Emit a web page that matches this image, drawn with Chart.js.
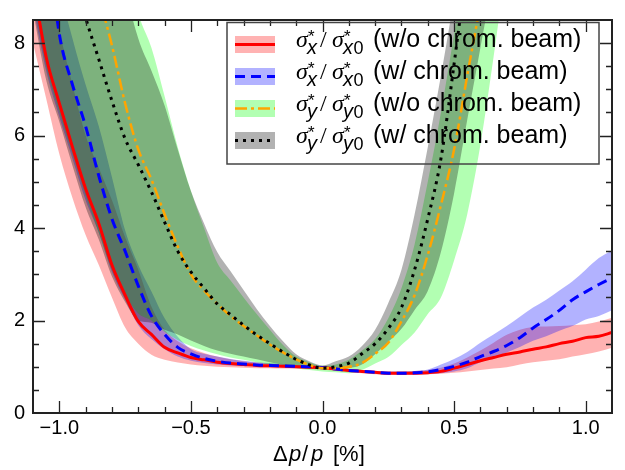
<!DOCTYPE html>
<html>
<head>
<meta charset="utf-8">
<script src="https://cdn.jsdelivr.net/npm/chart.js@4.4.0/dist/chart.umd.min.js"></script>
<style>
  html, body { margin: 0; padding: 0; background: #fff; }
  #wrap { width: 625px; height: 470px; position: relative; }
</style>
</head>
<body>
<div id="wrap"><canvas id="myChart"></canvas></div>
<script>
// momentum offset dp/p [%]
const dp = [-1.10, -1.05, -1.00, -0.95, -0.90, -0.85, -0.80, -0.75, -0.70, -0.65, -0.60, -0.55, -0.50, -0.45, -0.40,
    -0.35, -0.30, -0.25, -0.20, -0.15, -0.10, -0.05, 0.00, 0.05, 0.10, 0.15, 0.20, 0.25, 0.30, 0.35, 0.40,
    0.45, 0.50, 0.55, 0.60, 0.65, 0.70, 0.75, 0.80, 0.85, 0.90, 0.95, 1.00, 1.05, 1.10];

// sigma_x* / sigma_x0* (w/o chrom. beam)
const sxRef = [9.3, 7.7, 6.7, 5.75, 4.85, 4.1, 3.2, 2.55, 1.98, 1.7, 1.42, 1.3, 1.2, 1.15, 1.1,
    1.07, 1.05, 1.03, 1.02, 1.01, 1.0, 0.99, 0.98, 0.95, 0.92, 0.9, 0.88, 0.86, 0.86, 0.86, 0.87,
    0.9, 0.97, 1.05, 1.13, 1.2, 1.27, 1.32, 1.38, 1.43, 1.5, 1.55, 1.63, 1.66, 1.74];
const sxRefLo = [8.0, 6.8, 5.6, 4.65, 3.85, 3.2, 2.5, 1.85, 1.5, 1.26, 1.15, 1.09, 1.05, 1.02, 1.0,
    0.99, 0.98, 0.97, 0.97, 0.96, 0.96, 0.95, 0.94, 0.91, 0.88, 0.86, 0.84, 0.83, 0.83, 0.83, 0.84,
    0.85, 0.87, 0.9, 0.93, 0.96, 0.99, 1.05, 1.1, 1.13, 1.16, 1.22, 1.27, 1.33, 1.41];
const sxRefHi = [12, 10, 8.3, 7.1, 6.0, 5.3, 4.6, 3.8, 3.1, 2.3, 1.8, 1.55, 1.4, 1.3, 1.22,
    1.16, 1.12, 1.09, 1.07, 1.05, 1.03, 1.02, 1.01, 0.98, 0.95, 0.93, 0.91, 0.9, 0.9, 0.91, 0.93,
    0.98, 1.07, 1.2, 1.35, 1.52, 1.69, 1.8, 1.86, 1.87, 1.88, 1.9, 1.92, 1.98, 2.06];

// sigma_x* / sigma_x0* (w/ chrom. beam)
const sxChr = [13, 10.5, 8.2, 7.1, 6.2, 5.13, 4.2, 3.5, 2.75, 2.1, 1.7, 1.42, 1.28, 1.18, 1.12,
    1.08, 1.06, 1.04, 1.03, 1.02, 1.01, 1.0, 0.98, 0.95, 0.92, 0.9, 0.88, 0.86, 0.86, 0.87, 0.89,
    0.94, 1.01, 1.1, 1.22, 1.33, 1.46, 1.63, 1.84, 2.02, 2.22, 2.45, 2.62, 2.78, 2.92];
const sxChrLo = [8.8, 7.4, 6.4, 5.5, 4.6, 3.9, 3.05, 2.45, 1.9, 1.6, 1.38, 1.22, 1.13, 1.08, 1.05,
    1.03, 1.02, 1.01, 1.0, 0.99, 0.98, 0.97, 0.96, 0.93, 0.9, 0.87, 0.85, 0.84, 0.83, 0.83, 0.84,
    0.86, 0.9, 0.97, 1.1, 1.2, 1.31, 1.43, 1.56, 1.66, 1.78, 1.88, 2.02, 2.1, 2.22];
const sxChrHi = [14, 11.5, 9.3, 8.1, 7.1, 6.2, 5.1, 3.95, 3.2, 2.63, 2.05, 1.65, 1.38, 1.28, 1.22,
    1.17, 1.13, 1.1, 1.08, 1.06, 1.04, 1.03, 1.01, 0.98, 0.95, 0.93, 0.91, 0.9, 0.9, 0.91, 0.94,
    1.05, 1.17, 1.32, 1.52, 1.7, 1.88, 2.08, 2.28, 2.45, 2.65, 2.85, 3.1, 3.35, 3.52];

// sigma_y* / sigma_y0* (w/o chrom. beam)
const syRef = [20, 16, 13.5, 11.5, 10, 9.0, 7.95, 6.7, 5.7, 5.05, 4.3, 3.6, 3.0, 2.65, 2.36,
    2.1, 1.88, 1.68, 1.48, 1.31, 1.16, 1.04, 0.97, 0.97, 1.0, 1.08, 1.28, 1.52, 1.98, 2.55, 3.42,
    4.5, 5.7, 7.3, 8.9, 11, 13, 15.5, 18, 21, 24, 27, 30, 33, 36];
const syRefLo = [9.0, 7.5, 6.5, 5.6, 4.7, 3.9, 3.1, 2.55, 2.15, 2.0, 1.75, 1.58, 1.45, 1.35, 1.27,
    1.2, 1.15, 1.1, 1.05, 1.01, 0.97, 0.93, 0.9, 0.88, 0.86, 0.93, 1.07, 1.21, 1.47, 1.74, 2.14,
    2.5, 3.3, 4.3, 5.8, 7.7, 9.8, 12, 14, 16, 18, 20, 22, 24, 26];
const syRefHi = [30, 25, 21, 18, 15.5, 13.5, 11.5, 10, 8.65, 7.9, 6.85, 5.75, 4.8, 4.0, 3.25,
    2.87, 2.5, 2.14, 1.8, 1.47, 1.22, 1.1, 1.02, 1.05, 1.15, 1.35, 1.6, 2.05, 2.7, 3.65, 5.0,
    6.5, 8.2, 10, 12, 14, 16, 18, 20, 22, 24, 26, 28, 30, 32];

// sigma_y* / sigma_y0* (w/ chrom. beam)
const syChr = [16, 13.5, 11.3, 9.6, 8.55, 7.65, 6.75, 5.93, 5.37, 4.78, 4.13, 3.5, 3.05, 2.7, 2.36,
    2.13, 1.9, 1.69, 1.5, 1.32, 1.16, 1.04, 0.97, 1.0, 1.08, 1.28, 1.5, 1.83, 2.28, 3.1, 4.2,
    5.5, 7.55, 9.8, 12.5, 15, 18, 21, 24, 27, 30, 33, 36, 39, 42];
const syChrLo = [8.7, 7.2, 6.3, 5.35, 4.45, 3.75, 2.95, 2.4, 2.0, 1.95, 1.8, 1.7, 1.57, 1.45, 1.35,
    1.28, 1.22, 1.16, 1.1, 1.05, 1.0, 0.97, 0.95, 0.94, 0.97, 1.05, 1.27, 1.54, 1.82, 2.23, 2.64,
    3.48, 4.75, 6.34, 7.9, 9.5, 11.5, 13.5, 15.5, 17.5, 19.5, 21.5, 23.5, 25.5, 27.5];
const syChrHi = [28, 24, 20, 17, 14.5, 12.5, 10.7, 9.2, 8.1, 7.4, 6.65, 5.7, 4.8, 4.1, 3.48,
    3.07, 2.66, 2.25, 1.88, 1.55, 1.27, 1.12, 1.03, 1.12, 1.22, 1.45, 1.8, 2.38, 3.1, 4.3, 5.75,
    7.3, 9.0, 11, 13, 15, 17, 19, 21, 23, 25, 27, 29, 31, 33];

const xTicks = [-1.0, -0.5, 0.0, 0.5, 1.0];
const xTickLabels = ["\u22121.0", "\u22120.5", "0.0", "0.5", "1.0"];
const yTicks = [0, 2, 4, 6, 8];
const yTickLabels = ["0", "2", "4", "6", "8"];

const legendSub = ["x", "x", "y", "y"];
const legendText = ["(w/o chrom. beam)", "(w/ chrom. beam)", "(w/o chrom. beam)", "(w/ chrom. beam)"];

const pts = (arr) => arr.map((v, i) => ({ x: dp[i], y: v }));

const SANS = '"Liberation Sans", Arial, sans-serif';
const SERIF = '"Liberation Serif", "Times New Roman", serif';

const bandColors = ["rgba(255,0,0,0.3)", "rgba(0,0,255,0.3)", "rgba(0,255,0,0.3)", "rgba(0,0,0,0.3)"];
const lineStyles = [
    { color: "#ff0000", dash: [], width: 3 },
    { color: "#0000ff", dash: [10, 6], width: 3 },
    { color: "#ffa500", dash: [12, 4, 3, 4], width: 2.5 },
    { color: "#000000", dash: [3, 5], width: 3 },
];

function bound(data) {
    return {
        data: pts(data), borderColor: "transparent", borderWidth: 0, pointRadius: 0,
        fill: false, order: 20, cubicInterpolationMode: "monotone",
    };
}
function band(data, lowIndex, color, order) {
    return {
        data: pts(data), borderColor: "transparent", borderWidth: 0, pointRadius: 0,
        fill: lowIndex, backgroundColor: color, order: order, cubicInterpolationMode: "monotone",
    };
}
function curve(data, style, order) {
    return {
        data: pts(data), borderColor: style.color, borderWidth: style.width, borderDash: style.dash,
        pointRadius: 0, fill: false, order: order, cubicInterpolationMode: "monotone",
    };
}

// ticks on all four sides, pointing inwards, plus the frame
const frameTicks = {
    id: "frameTicks",
    afterDatasetsDraw(chart) {
        const { ctx, chartArea: a, scales: { x, y } } = chart;
        ctx.save();
        ctx.strokeStyle = "#222";
        ctx.lineWidth = 1.3;
        ctx.beginPath();
        for (let i = -10; i <= 10; i++) {
            const px = Math.round(x.getPixelForValue(i / 10)) + 0.5;
            const len = i % 5 === 0 ? 12 : 6;
            ctx.moveTo(px, a.bottom); ctx.lineTo(px, a.bottom - len);
            ctx.moveTo(px, a.top); ctx.lineTo(px, a.top + len);
        }
        for (let i = 1; i <= 16; i++) {
            const py = Math.round(y.getPixelForValue(i * 0.5)) + 0.5;
            const len = i % 4 === 0 ? 12 : 6;
            ctx.moveTo(a.left, py); ctx.lineTo(a.left + len, py);
            ctx.moveTo(a.right, py); ctx.lineTo(a.right - len, py);
        }
        ctx.stroke();
        ctx.lineWidth = 2;
        ctx.strokeRect(a.left, a.top, a.right - a.left, a.bottom - a.top);
        ctx.restore();
    },
};

// sigma*_s / sigma*_s0 written with super- and subscripts
function drawRatio(ctx, base, sub) {
    ctx.font = "italic 24px " + SERIF;
    ctx.fillText("\u03c3", 296, base);
    ctx.fillText("\u03c3", 332, base);
    ctx.font = "17px " + SANS;
    ctx.fillText("*", 308, base - 5);
    ctx.fillText("*", 344, base - 5);
    ctx.font = "italic 20px " + SANS;
    ctx.fillText(sub, 307, base + 7);
    ctx.fillText(sub, 343, base + 7);
    const w = ctx.measureText(sub).width;
    ctx.font = "18px " + SANS;
    ctx.fillText("0", 343 + w + 0.5, base + 7);
    ctx.font = "24px " + SERIF;
    ctx.fillText("/", 320, base);
}

const legendBox = {
    id: "legendBox",
    afterDraw(chart) {
        const ctx = chart.ctx;
        ctx.save();
        ctx.strokeStyle = "#444";
        ctx.lineWidth = 1.5;
        ctx.strokeRect(227, 22.5, 372, 141.5);
        ctx.textAlign = "left";
        ctx.textBaseline = "alphabetic";
        for (let i = 0; i < 4; i++) {
            const cy = 44.5 + i * 32;
            ctx.fillStyle = bandColors[i];
            ctx.fillRect(235, cy - 8.5, 40, 17);
            const st = lineStyles[i];
            ctx.strokeStyle = st.color;
            ctx.lineWidth = st.width;
            ctx.setLineDash(st.dash);
            ctx.beginPath();
            ctx.moveTo(235, cy); ctx.lineTo(275, cy);
            ctx.stroke();
            ctx.setLineDash([]);
            ctx.fillStyle = "#000";
            const base = cy + 2;
            drawRatio(ctx, base, legendSub[i]);
            ctx.font = "25px " + SANS;
            ctx.fillText(legendText[i], 373, base);
        }
        // x axis title: Delta p / p [%]
        const segs = [["22px " + SANS, "\u0394", 273], ["italic 22px " + SANS, "p", 289],
            ["22px " + SANS, "/", 302], ["italic 22px " + SANS, "p", 311], ["22px " + SANS, "[%]", 333]];
        segs.forEach(s => { ctx.font = s[0]; ctx.fillText(s[1], s[2], 461); });
        ctx.restore();
    },
};

Chart.defaults.font.family = SANS;
Chart.defaults.color = "#000";

const myChart = new Chart("myChart", {
    type: "line",
    data: {
        datasets: [
            bound(sxRefLo), band(sxRefHi, 0, bandColors[0], 7),
            bound(sxChrLo), band(sxChrHi, 2, bandColors[1], 6),
            bound(syRefLo), band(syRefHi, 4, bandColors[2], 5),
            bound(syChrLo), band(syChrHi, 6, bandColors[3], 4),
            curve(sxRef, lineStyles[0], 3),
            curve(sxChr, lineStyles[1], 2),
            curve(syRef, lineStyles[2], 1),
            curve(syChr, lineStyles[3], 0),
        ],
    },
    options: {
        responsive: true,
        maintainAspectRatio: false,
        animation: false,
        layout: { padding: { top: 9, right: 13, left: 0, bottom: 0 } },
        plugins: {
            legend: { display: false },
            tooltip: { enabled: false },
            filler: { drawTime: "beforeDatasetsDraw" },
        },
        scales: {
            x: {
                type: "linear", min: -1.1, max: 1.1,
                grid: { display: false, drawTicks: false },
                border: { display: false },
                afterBuildTicks: (s) => { s.ticks = xTicks.map(v => ({ value: v })); },
                afterFit: (s) => { s.height = 57; },
                ticks: {
                    font: { size: 20 }, padding: 3, maxRotation: 0,
                    callback: (v, i) => xTickLabels[i],
                },
            },
            y: {
                min: 0, max: 8.5,
                grid: { display: false, drawTicks: false },
                border: { display: false },
                afterBuildTicks: (s) => { s.ticks = yTicks.map(v => ({ value: v })); },
                afterFit: (s) => { s.width = 33; },
                ticks: {
                    font: { size: 20 }, padding: 8,
                    callback: (v, i) => yTickLabels[i],
                },
            },
        },
    },
    plugins: [frameTicks, legendBox],
});
</script>
</body>
</html>
